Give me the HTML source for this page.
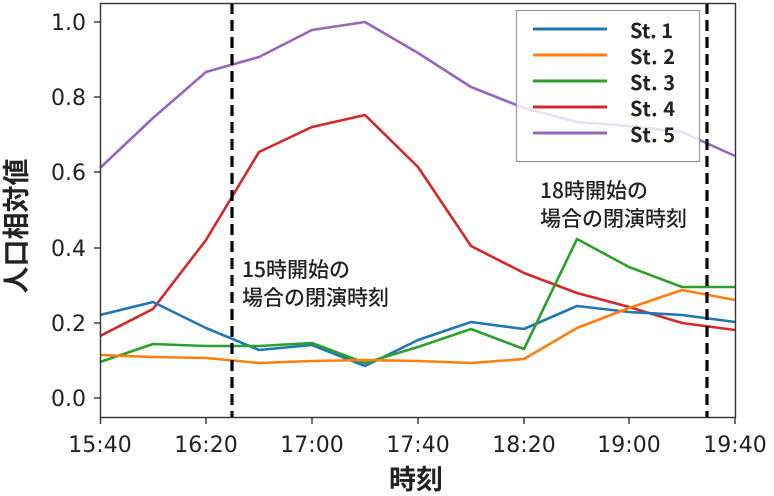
<!DOCTYPE html>
<html><head><meta charset="utf-8"><style>
body{margin:0;background:#fff}
svg{display:block}
text{font-family:"DejaVu Sans","Noto Sans CJK JP",sans-serif;fill:#222}
.j{font-family:"Noto Sans CJK JP","Liberation Sans",sans-serif}
</style></head><body>
<svg width="774" height="496" viewBox="0 0 774 496">
<g fill="none" stroke-width="2.6" stroke-linejoin="round">
<polyline stroke="#9467bd" points="100,168 153,118 206,72 259,57 312,30 365,22 418,53 471,87 524,108 577,122 629,126 682,132 735,156"/>
<polyline stroke="#d62728" points="100,336 153,309 206,240 259,152 312,127 365,115 418,167 471,246 524,273 577,293 629,307 682,323 735,330"/>
<polyline stroke="#1f77b4" points="100,315 153,302 206,328 259,350 312,345 365,366 418,340 471,322 524,329 577,306 629,312 682,315 735,322"/>
<polyline stroke="#2ca02c" points="100,362 153,344 206,346 259,346 312,343 365,363 418,347 471,329 524,349 577,239 629,267 682,287 735,287"/>
<polyline stroke="#ff7f0e" points="100,355 153,357 206,358 259,363 312,361 365,360 418,361 471,363 524,359 577,328 629,308 682,290 735,300"/>
</g>
<g stroke="#000" stroke-width="3.2" stroke-dasharray="11,6">
<line x1="232" y1="3" x2="232" y2="417"/>
<line x1="707" y1="3" x2="707" y2="417"/>
</g>
<rect x="100.5" y="3.5" width="635" height="414" fill="none" stroke="#333" stroke-width="1.4"/>
<g stroke="#333" stroke-width="1.4">
<line x1="94" y1="22" x2="100" y2="22"/><line x1="94" y1="97" x2="100" y2="97"/><line x1="94" y1="172" x2="100" y2="172"/><line x1="94" y1="248" x2="100" y2="248"/><line x1="94" y1="323" x2="100" y2="323"/><line x1="94" y1="398" x2="100" y2="398"/>
<line x1="100.5" y1="417" x2="100.5" y2="424"/><line x1="206" y1="417" x2="206" y2="424"/><line x1="312" y1="417" x2="312" y2="424"/><line x1="418" y1="417" x2="418" y2="424"/><line x1="524" y1="417" x2="524" y2="424"/><line x1="629" y1="417" x2="629" y2="424"/><line x1="735" y1="417" x2="735" y2="424"/>
</g>
<g font-size="22" text-anchor="end">
<text x="86" y="30">1.0</text><text x="86" y="105">0.8</text><text x="86" y="180">0.6</text><text x="86" y="256">0.4</text><text x="86" y="331">0.2</text><text x="86" y="406">0.0</text>
</g>
<g font-size="22" text-anchor="middle">
<text x="100" y="452">15:40</text><text x="206" y="452">16:20</text><text x="312" y="452">17:00</text><text x="418" y="452">17:40</text><text x="524" y="452">18:20</text><text x="629" y="452">19:00</text><text x="735" y="452">19:40</text>
</g>
<text class="j" x="416" y="489" font-size="27" font-weight="bold" text-anchor="middle">時刻</text>
<text class="j" font-size="27" font-weight="bold" text-anchor="middle" transform="translate(26,226) rotate(-90)">人口相対値</text>
<g font-size="21" font-weight="500">
<text class="j" x="242" y="277">15時開始の</text><text class="j" x="242" y="305">場合の閉演時刻</text>
<text class="j" x="540" y="198">18時開始の</text><text class="j" x="540" y="226">場合の閉演時刻</text>
</g>
<rect x="516.5" y="10.5" width="183" height="151" fill="#fff" fill-opacity="0.8" stroke="#999" stroke-width="1.2"/>
<g stroke-width="3">
<line x1="533" y1="29" x2="607" y2="29" stroke="#1f77b4"/>
<line x1="533" y1="55" x2="607" y2="55" stroke="#ff7f0e"/>
<line x1="533" y1="81" x2="607" y2="81" stroke="#2ca02c"/>
<line x1="533" y1="107" x2="607" y2="107" stroke="#d62728"/>
<line x1="533" y1="133" x2="607" y2="133" stroke="#9467bd"/>
</g>
<g font-size="20" font-weight="bold">
<text class="j" x="630" y="38" textLength="43">St. 1</text><text class="j" x="630" y="64" textLength="45">St. 2</text><text class="j" x="630" y="90" textLength="45">St. 3</text><text class="j" x="630" y="116" textLength="45">St. 4</text><text class="j" x="630" y="142" textLength="45">St. 5</text>
</g>
</svg>
</body></html>
